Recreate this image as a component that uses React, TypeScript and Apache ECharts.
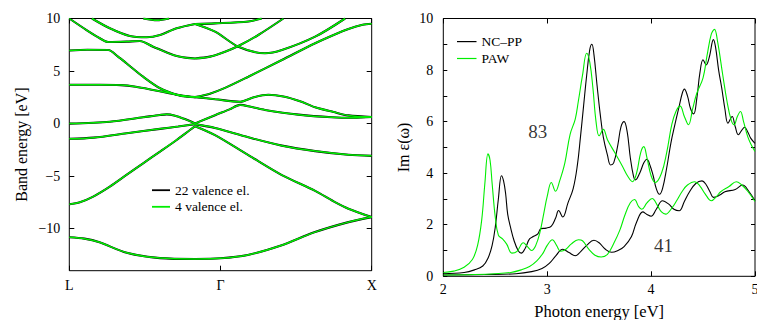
import React, { useEffect, useRef } from "react";
import * as echarts from "echarts";

const FONT = "Liberation Serif, Times New Roman, DejaVu Serif, serif";

// ---------- left panel: band structure (k fraction along L–Γ–X, energy in eV)
const kTickValues = [0, 0.5, 1];
const kTickLabels = ["L", "Γ", "X"];
const bandTickValues = [-10, -5, 0, 5, 10];
const GAMMA_K = 0.416;

const band1 = [[0, -10.82], [0.05, -10.95], [0.1, -11.3], [0.19, -12.3], [0.3, -12.8], [0.416, -12.88], [0.5, -12.82], [0.59, -12.5], [0.7, -11.6], [0.81, -10.35], [0.92, -9.4], [1, -8.9]];
const band2 = [[0, -7.68], [0.035, -7.49], [0.079, -6.95], [0.134, -6.0], [0.189, -4.89], [0.244, -3.78], [0.3, -2.67], [0.355, -1.56], [0.399, -0.61], [0.416, -0.25], [0.482, -1.1], [0.592, -3.0], [0.703, -4.9], [0.813, -6.4], [0.874, -7.4], [0.923, -8.1], [1, -8.9]];
const band3 = [[0, -1.45], [0.08, -1.34], [0.19, -0.92], [0.3, -0.5], [0.36, -0.28], [0.416, -0.05], [0.482, -0.42], [0.592, -1.3], [0.703, -2.1], [0.813, -2.62], [0.923, -2.97], [1, -3.07]];
const band4 = [[0, 0], [0.134, 0.18], [0.244, 0.6], [0.3, 0.82], [0.322, 0.88], [0.35, 0.75], [0.38, 0.45], [0.416, 0.02], [0.482, 0.8], [0.53, 1.35], [0.565, 1.78], [0.6, 1.6], [0.647, 1.3], [0.758, 0.85], [0.868, 0.6], [0.94, 0.55], [1, 0.62]];
const band5 = [[0, 3.7], [0.1, 3.7], [0.17, 3.66], [0.22, 3.5], [0.277, 3.2], [0.33, 2.9], [0.377, 2.65], [0.416, 2.52], [0.482, 2.32], [0.565, 2.08], [0.61, 2.5], [0.658, 2.74], [0.708, 2.58], [0.763, 2.13], [0.813, 1.55], [0.874, 1.1], [0.923, 0.78], [1, 0.62]];
const band6 = [[0, 6.95], [0.06, 7.02], [0.129, 7.0], [0.16, 6.4], [0.189, 5.74], [0.244, 4.46], [0.3, 3.36], [0.355, 2.75], [0.39, 2.55], [0.416, 2.52], [0.465, 2.85], [0.515, 3.4], [0.592, 4.46], [0.703, 6.05], [0.813, 7.64], [0.874, 8.43], [0.923, 9.0], [0.97, 9.4], [1, 9.5]];
const band7 = [[0, 10.0], [0.057, 8.9], [0.101, 8.12], [0.129, 7.76], [0.19, 7.8], [0.233, 7.86], [0.277, 7.32], [0.344, 6.53], [0.39, 6.25], [0.416, 6.2], [0.465, 6.37], [0.515, 6.84], [0.559, 7.38], [0.625, 8.43], [0.708, 10.0]];
const band8 = [[0.075, 10.0], [0.134, 9.07], [0.2, 8.33], [0.256, 8.21], [0.3, 8.43], [0.355, 9.07], [0.416, 9.48], [0.482, 8.75], [0.559, 7.32], [0.647, 6.69], [0.703, 7.0], [0.813, 8.27], [0.912, 10.0]];
const band9 = [[0.416, 9.48], [0.482, 9.54], [0.592, 9.72], [0.636, 10.0]];
const band10 = [[0.245, 10.0], [0.29, 9.83], [0.33, 10.0]];
const bands = [band1, band2, band3, band4, band5, band6, band7, band8, band9, band10];

// ---------- right panel: Im eps(omega) vs photon energy (eV)
const ncpp83 = [[2.0, 0.1], [2.2, 0.15], [2.3, 0.25], [2.38, 0.4], [2.43, 0.7], [2.47, 1.2], [2.5, 1.9], [2.53, 3.0], [2.56, 3.9], [2.58, 3.7], [2.6, 3.2], [2.62, 2.4], [2.65, 1.85], [2.68, 1.4], [2.72, 1.0], [2.75, 0.9], [2.79, 1.1], [2.83, 1.45], [2.87, 1.55], [2.91, 1.65], [2.94, 1.85], [2.99, 1.87], [3.04, 1.95], [3.08, 2.25], [3.11, 2.55], [3.15, 2.3], [3.2, 2.85], [3.25, 3.4], [3.29, 4.3], [3.32, 5.4], [3.35, 6.6], [3.38, 7.8], [3.41, 8.8], [3.43, 9.0], [3.45, 8.6], [3.48, 7.4], [3.51, 6.3], [3.54, 5.4], [3.58, 4.7], [3.61, 4.32], [3.64, 4.4], [3.68, 5.1], [3.71, 5.8], [3.74, 6.0], [3.77, 5.6], [3.8, 4.6], [3.83, 3.9], [3.85, 3.74], [3.89, 4.0], [3.93, 4.4], [3.96, 4.54], [3.99, 4.3], [4.02, 3.9], [4.05, 3.4], [4.08, 3.18], [4.11, 3.4], [4.15, 4.2], [4.19, 5.16], [4.23, 5.9], [4.27, 6.59], [4.3, 7.1], [4.32, 7.26], [4.35, 7.0], [4.38, 6.5], [4.41, 6.3], [4.44, 6.9], [4.47, 7.9], [4.5, 8.4], [4.53, 8.2], [4.56, 8.5], [4.6, 9.18], [4.62, 8.9], [4.65, 8.0], [4.68, 7.3], [4.71, 6.5], [4.74, 5.94], [4.78, 6.2], [4.81, 5.8], [4.84, 5.49], [4.87, 5.65], [4.9, 5.78], [4.93, 5.6], [4.96, 5.35], [5.0, 5.16]];
const paw83 = [[2.0, 0.15], [2.1, 0.2], [2.2, 0.35], [2.28, 0.65], [2.33, 1.2], [2.37, 2.2], [2.4, 3.6], [2.43, 4.75], [2.45, 4.5], [2.47, 3.6], [2.5, 2.3], [2.53, 1.6], [2.57, 1.45], [2.61, 1.25], [2.66, 0.9], [2.71, 0.97], [2.77, 1.3], [2.81, 1.15], [2.85, 1.0], [2.89, 1.2], [2.93, 1.7], [2.97, 2.5], [3.0, 3.1], [3.04, 3.64], [3.08, 3.3], [3.12, 3.7], [3.17, 4.4], [3.22, 5.5], [3.27, 6.1], [3.3, 6.8], [3.34, 7.8], [3.38, 8.65], [3.41, 8.3], [3.44, 7.3], [3.47, 6.0], [3.5, 5.45], [3.54, 5.7], [3.58, 5.3], [3.65, 4.8], [3.72, 4.3], [3.78, 3.85], [3.82, 3.67], [3.86, 4.0], [3.9, 4.8], [3.93, 5.03], [3.96, 4.6], [4.0, 3.9], [4.04, 3.64], [4.1, 4.0], [4.15, 4.8], [4.2, 5.9], [4.24, 6.4], [4.28, 6.6], [4.32, 6.2], [4.36, 5.88], [4.4, 6.5], [4.44, 7.1], [4.5, 7.7], [4.54, 8.6], [4.58, 9.4], [4.61, 9.58], [4.64, 9.1], [4.69, 7.8], [4.73, 6.8], [4.77, 6.07], [4.8, 5.88], [4.83, 6.2], [4.86, 6.39], [4.89, 6.0], [4.93, 5.42], [4.97, 5.05], [5.0, 4.84]];
const ncpp41 = [[2.0, 0.05], [2.4, 0.07], [2.7, 0.1], [2.85, 0.18], [2.95, 0.3], [3.02, 0.5], [3.08, 0.78], [3.15, 1.05], [3.21, 0.92], [3.27, 0.8], [3.32, 0.95], [3.38, 1.2], [3.45, 1.4], [3.5, 1.3], [3.56, 1.05], [3.62, 0.93], [3.68, 1.0], [3.74, 1.15], [3.81, 1.53], [3.86, 2.1], [3.92, 2.5], [3.96, 2.4], [4.0, 2.33], [4.05, 2.6], [4.11, 2.93], [4.17, 2.8], [4.22, 2.6], [4.27, 2.54], [4.32, 2.9], [4.37, 3.28], [4.43, 3.6], [4.49, 3.7], [4.53, 3.55], [4.57, 3.25], [4.6, 3.06], [4.66, 3.15], [4.71, 3.28], [4.81, 3.37], [4.88, 3.54], [4.94, 3.3], [5.0, 2.93]];
const paw41 = [[2.0, 0.05], [2.3, 0.07], [2.5, 0.1], [2.65, 0.15], [2.75, 0.25], [2.83, 0.38], [2.9, 0.6], [2.96, 0.9], [3.0, 1.2], [3.05, 1.42], [3.09, 1.2], [3.13, 0.97], [3.18, 1.05], [3.23, 1.25], [3.3, 1.42], [3.34, 1.38], [3.4, 1.05], [3.46, 0.82], [3.52, 0.75], [3.58, 0.85], [3.64, 1.27], [3.7, 1.8], [3.75, 2.4], [3.8, 2.85], [3.84, 2.98], [3.88, 2.7], [3.91, 2.6], [3.96, 2.85], [4.01, 3.02], [4.06, 2.75], [4.1, 2.5], [4.14, 2.41], [4.2, 2.65], [4.25, 2.96], [4.3, 3.3], [4.35, 3.54], [4.42, 3.67], [4.47, 3.5], [4.52, 3.2], [4.58, 2.93], [4.63, 3.1], [4.67, 3.28], [4.75, 3.48], [4.82, 3.67], [4.87, 3.55], [4.93, 3.3], [5.0, 2.9]];
const peakLabels = ["83", "41"];
const peakLabelPos = [[2.91, 5.6], [4.12, 1.21]];

const BLACK = "#000000";
const GREEN = "#00ee00";
const LEG_L = ["22 valence el.", "4 valence el."];
const LEG_R = ["NC–PP", "PAW"];

const minus = (v: number) => (v < 0 ? "−" + Math.abs(v) : String(v));

function bandSeries(name: string, color: string, width: number) {
  const out: any[] = [];
  bands.forEach((b) => {
    const left = b.filter((p) => p[0] <= GAMMA_K);
    const right = b.filter((p) => p[0] >= GAMMA_K);
    [left, right].forEach((seg) => {
      if (seg.length < 2) return;
      out.push({
        type: "line",
        name,
        xAxisIndex: 0,
        yAxisIndex: 0,
        data: seg,
        symbol: "none",
        smooth: 0.3,
        silent: true,
        lineStyle: { color, width },
        itemStyle: { color },
      });
    });
  });
  return out;
}

function specSeries(name: string, data: number[][], color: string) {
  return {
    type: "line",
    name,
    xAxisIndex: 2,
    yAxisIndex: 2,
    data,
    symbol: "none",
    smooth: 0.4,
    silent: true,
    lineStyle: { color, width: 1.1 },
    itemStyle: { color },
  };
}

const tickStyle = { color: "#000", width: 1 };
const labelBase = { color: "#000", fontFamily: FONT, fontSize: 14 };
const noLine = { show: false, onZero: false };

export default function App() {
  const ref = useRef<HTMLDivElement>(null);
  useEffect(() => {
    if (!ref.current) return;
    const chart = echarts.init(ref.current, undefined, { renderer: "svg" });
    const option: any = {
      animation: false,
      backgroundColor: "#ffffff",
      textStyle: { fontFamily: FONT },
      grid: [
        { left: 69.3, top: 18.5, width: 302.4, height: 252.2, show: true, borderColor: "#000", borderWidth: 1, backgroundColor: "transparent", containLabel: false, outerBoundsMode: "none" },
        { left: 443.3, top: 18.5, width: 311.7, height: 257.8, show: true, borderColor: "#000", borderWidth: 1, backgroundColor: "transparent", containLabel: false, outerBoundsMode: "none" },
      ],
      xAxis: [
        {
          type: "value", gridIndex: 0, min: 0, max: 1, position: "bottom",
          axisLine: noLine, splitLine: { show: false },
          axisTick: { inside: true, length: 5, lineStyle: tickStyle, customValues: kTickValues },
          axisLabel: { ...labelBase, margin: 8, customValues: kTickValues, formatter: (v: number) => kTickLabels[kTickValues.indexOf(v)] ?? "" },
        },
        {
          type: "value", gridIndex: 0, min: 0, max: 1, position: "top",
          axisLine: noLine, splitLine: { show: false },
          axisTick: { inside: true, length: 5, lineStyle: tickStyle, customValues: kTickValues },
          axisLabel: { show: false },
        },
        {
          type: "value", gridIndex: 1, min: 2, max: 5, interval: 1, position: "bottom",
          axisLine: noLine, splitLine: { show: false },
          axisTick: { inside: true, length: 5, lineStyle: tickStyle },
          axisLabel: { ...labelBase, margin: 6 },
          name: "Photon energy [eV]", nameLocation: "middle", nameGap: 26.5,
          nameTextStyle: { color: "#000", fontFamily: FONT, fontSize: 16.5 },
        },
        {
          type: "value", gridIndex: 1, min: 2, max: 5, interval: 1, position: "top",
          axisLine: noLine, splitLine: { show: false },
          axisTick: { inside: true, length: 5, lineStyle: tickStyle },
          axisLabel: { show: false },
        },
      ],
      yAxis: [
        {
          type: "value", gridIndex: 0, min: -14, max: 10, position: "left",
          axisLine: noLine, splitLine: { show: false },
          axisTick: { inside: true, length: 5, lineStyle: tickStyle, customValues: bandTickValues },
          axisLabel: { ...labelBase, margin: 9, customValues: bandTickValues, formatter: (v: number) => minus(v) },
          name: "Band energy [eV]", nameLocation: "middle", nameGap: 40,
          nameTextStyle: { color: "#000", fontFamily: FONT, fontSize: 16 },
        },
        {
          type: "value", gridIndex: 0, min: -14, max: 10, position: "right",
          axisLine: noLine, splitLine: { show: false },
          axisTick: { inside: true, length: 5, lineStyle: tickStyle, customValues: bandTickValues },
          axisLabel: { show: false },
        },
        {
          type: "value", gridIndex: 1, min: 0, max: 10, interval: 2, position: "left",
          axisLine: noLine, splitLine: { show: false },
          axisTick: { inside: true, length: 4, lineStyle: tickStyle },
          minorTick: { show: true, splitNumber: 2, length: 4, lineStyle: tickStyle },
          axisLabel: { ...labelBase, margin: 10 },
          name: "Im ε(ω)", nameLocation: "middle", nameGap: 32,
          nameTextStyle: { color: "#000", fontFamily: FONT, fontSize: 16 },
        },
        {
          type: "value", gridIndex: 1, min: 0, max: 10, interval: 2, position: "right",
          axisLine: noLine, splitLine: { show: false },
          axisTick: { inside: true, length: 4, lineStyle: tickStyle },
          minorTick: { show: true, splitNumber: 2, length: 4, lineStyle: tickStyle },
          axisLabel: { show: false },
        },
      ],
      legend: [
        {
          data: LEG_L.map((n) => ({ name: n, icon: "rect" })), orient: "vertical", left: 152, top: 183.2, padding: 0,
          itemWidth: 18, itemHeight: 1.8, itemGap: 2.6,
          selectedMode: false, textStyle: { color: "#000", fontFamily: FONT, fontSize: 13.5, lineHeight: 14 },
        },
        {
          data: LEG_R.map((n) => ({ name: n, icon: "rect" })), orient: "vertical", left: 457, top: 34.6, padding: 0,
          itemWidth: 19.5, itemHeight: 1.2, itemGap: 2.9,
          selectedMode: false, textStyle: { color: "#000", fontFamily: FONT, fontSize: 13.5, lineHeight: 14 },
        },
      ],
      series: [
        ...bandSeries(LEG_L[0], BLACK, 2.1),
        ...bandSeries(LEG_L[1], GREEN, 1.5),
        specSeries(LEG_R[0], ncpp83, BLACK),
        specSeries(LEG_R[0], ncpp41, BLACK),
        specSeries(LEG_R[1], paw83, GREEN),
        specSeries(LEG_R[1], paw41, GREEN),
        {
          type: "scatter", name: "labels", xAxisIndex: 2, yAxisIndex: 2,
          data: peakLabelPos.map((p, i) => ({ value: p, name: peakLabels[i] })),
          symbol: "circle", symbolSize: 1, silent: true,
          itemStyle: { color: "rgba(0,0,0,0)" },
          label: { show: true, position: "inside", formatter: (p: any) => p.name, color: "#000", fontFamily: FONT, fontSize: 19 },
        },
      ],
    };
    chart.setOption(option);
    return () => chart.dispose();
  }, []);
  return (
    <div
      ref={ref}
      style={{ position: "fixed", left: 0, top: 0, width: 757, height: 320, background: "#fff" }}
    />
  );
}
